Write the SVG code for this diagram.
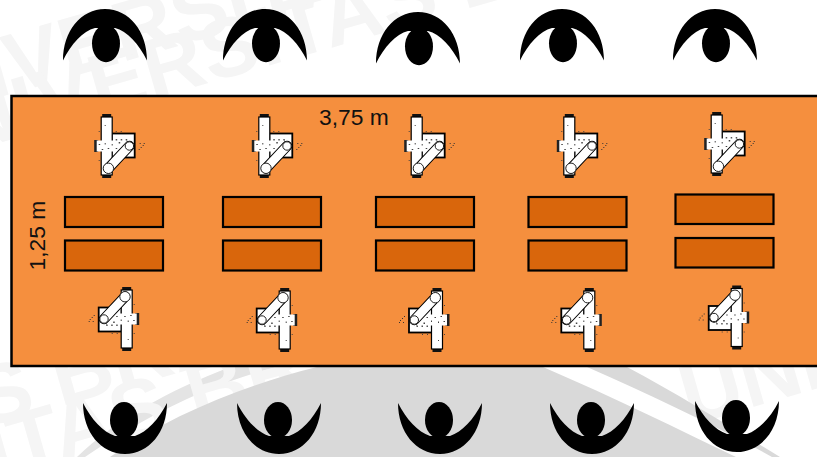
<svg xmlns="http://www.w3.org/2000/svg" width="817" height="457" viewBox="0 0 817 457">
<style>
.wm{font-family:"Liberation Sans",Arial,sans-serif;font-weight:700;font-size:84px;fill:#f5f5f5}
.lbl{font-family:"Liberation Sans",Arial,sans-serif;font-size:22.8px;fill:#111}
.tbl{fill:#d9660c;stroke:#000;stroke-width:2.2}
</style>
<defs>
<g id="top-person">
<path d="M-42 51.500C-42 22-24 0 0 0C24 0 42 22 42 51.500C34 35 22 22 10 19L-10 19C-22 22-34 35-42 51.500Z" fill="#000"/>
<ellipse cx="1" cy="34.500" rx="14" ry="18.700" fill="#000"/>
</g>
<g id="bottom-person">
<path d="M-42 0C-42 29-24 51 0 51C24 51 42 29 42 0C34 16 22 29 10 33L-10 33C-22 29-34 16-42 0Z" fill="#000"/>
<ellipse cx="-1" cy="17" rx="14" ry="18" fill="#000"/>
</g>
<g id="robot">
<rect x="-4.500" y="-32" width="9" height="4" fill="#111"/>
<rect x="-4.500" y="28" width="9" height="4" fill="#111"/>
<rect x="-12.500" y="-6" width="4" height="12" fill="#222"/>
<rect x="5" y="-12.500" width="23" height="24" fill="#fff" stroke="#000" stroke-width="1.800"/>
<rect x="-5.500" y="-29" width="11" height="58" fill="#fff" stroke="#000" stroke-width="1.200"/>
<path d="M9-7h1.500v12h-1.500zM14-7h1.500v9h-1.500zM19-7h1.500v6h-1.500z" fill="#555"/>
<rect x="-10" y="-5.500" width="30" height="11" fill="#fff"/>
<path d="M-8-2h1.500v1h-1.500zM-5 3h1.500v1h-1.500zM-2-3h1v1.500h-1zM1 2h1.500v1h-1.500zM5-2h1v1.500h-1zM9 2h1.500v1h-1.500zM12-4h1.500v1.500h-1.500zM-2-21h1v1h-1zM2 20h1v1h-1zM-8-15h1v1h-1zM-8 14h1v1h-1zM9-15h1v1h-1zM14-15h1v1h-1z" fill="#444"/>
<line x1="1.700" y1="22.300" x2="22.700" y2="0" stroke="#000" stroke-width="10.500" stroke-linecap="round"/>
<line x1="1.700" y1="22.300" x2="22.700" y2="0" stroke="#fff" stroke-width="8.500" stroke-linecap="round"/>
<circle cx="1.700" cy="22.300" r="5.200" fill="#fff" stroke="#222" stroke-width="1"/>
<circle cx="22.700" cy="0" r="4.200" fill="#fff" stroke="#222" stroke-width="1"/>
<path d="M33-3h1v1h-1zM36-1h1v1h-1zM34 1h1v1h-1zM37-3h1v1h-1zM32 3h1v1h-1z" fill="#333"/>
</g>
</defs>
<rect width="817" height="457" fill="#fff"/>
<g id="watermark">
<path d="M230 367L277 367C205 385 140 420 85 457L77 457C115 420 170 390 230 367Z" fill="#e4e4e4"/>
<text class="wm" transform="translate(-125 133) rotate(-16)">UNIVERSITAS BRAWIJAYA</text>
<text class="wm" transform="translate(-95 170) rotate(-16)">UNIVERSITAS BRAWIJAYA</text>
<text class="wm" transform="translate(-74 445) rotate(-16)">AS BRA</text>
<text class="wm" transform="translate(-5 480) rotate(-16)">ITAS BRA</text>
<text class="wm" transform="translate(690 425) rotate(-16)">UNIV</text>
<path d="M317 367L543 367C615 398 680 430 736 457L110 457C170 415 245 385 317 367Z" fill="#d9d9d9"/>
<path d="M587 367L627 367C680 395 735 430 780 457L772 457C715 425 650 395 587 367Z" fill="#d9d9d9"/>
</g>
<rect id="floor" x="11.500" y="96" width="900" height="270" fill="#f58f3e" stroke="#000" stroke-width="2.500"/>
<g id="connectors"></g>
<g id="tables">
<rect class="tbl" x="65" y="197" width="98" height="30"/>
<rect class="tbl" x="65" y="240.500" width="98" height="30"/>
<rect class="tbl" x="223" y="197" width="98" height="30"/>
<rect class="tbl" x="223" y="240.500" width="98" height="30"/>
<rect class="tbl" x="376" y="197" width="98" height="30"/>
<rect class="tbl" x="376" y="240.500" width="98" height="30"/>
<rect class="tbl" x="528.500" y="197" width="98" height="30"/>
<rect class="tbl" x="528.500" y="240.500" width="98" height="30"/>
<rect class="tbl" x="675.500" y="194.500" width="98" height="29.500"/>
<rect class="tbl" x="675.500" y="238" width="98" height="29.500"/>
</g>
<g id="robots">
<use href="#robot" transform="translate(106.700 146)"/>
<use href="#robot" transform="translate(264.300 146)"/>
<use href="#robot" transform="translate(416.700 146)"/>
<use href="#robot" transform="translate(569.300 146)"/>
<use href="#robot" transform="translate(716.700 144)"/>
<use href="#robot" transform="translate(126.700 319) rotate(180)"/>
<use href="#robot" transform="translate(284.700 320) rotate(180)"/>
<use href="#robot" transform="translate(437 320) rotate(180)"/>
<use href="#robot" transform="translate(589.300 320) rotate(180)"/>
<use href="#robot" transform="translate(736.700 317.500) rotate(180)"/>
</g>
<g id="people">
<use href="#top-person" transform="translate(105 9)"/>
<use href="#top-person" transform="translate(265 9)"/>
<use href="#top-person" transform="translate(418 12)"/>
<use href="#top-person" transform="translate(562 9)"/>
<use href="#top-person" transform="translate(715 9)"/>
<use href="#bottom-person" transform="translate(125 403)"/>
<use href="#bottom-person" transform="translate(279 403)"/>
<use href="#bottom-person" transform="translate(440 403)"/>
<use href="#bottom-person" transform="translate(592 403)"/>
<use href="#bottom-person" transform="translate(737 401)"/>
</g>
<g id="labels">
<text class="lbl" x="319" y="125">3,75 m</text>
<text class="lbl" transform="translate(45 270.500) rotate(-90)">1,25 m</text>
</g>
</svg>
